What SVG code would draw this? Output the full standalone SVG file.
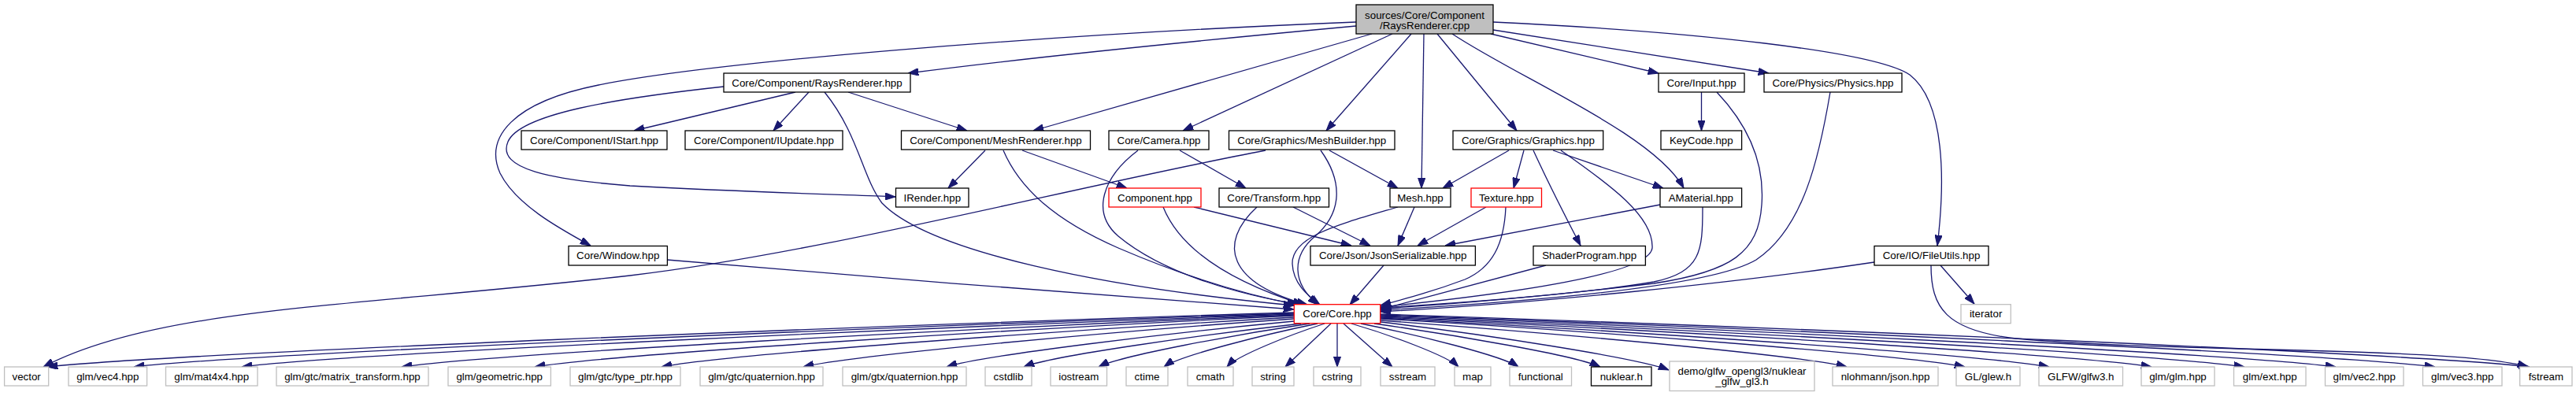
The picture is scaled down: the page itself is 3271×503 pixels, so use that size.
<svg xmlns="http://www.w3.org/2000/svg" width="3271" height="503" viewBox="0 0 3271 503">
<style>
.n rect{fill:#fff;stroke:#000;stroke-width:1.3}
.n.x rect{stroke:#bfbfbf}
.n.r rect{stroke:#f00}
.n.root rect{fill:#bfbfbf}
text{font-family:"Liberation Sans",Arial,Helvetica,sans-serif;font-size:13.33px;text-anchor:middle;fill:#000}
#edges path{fill:none;stroke:#191970;stroke-width:1.3;marker-end:url(#a)}
</style>
<defs>
<marker id="a" markerUnits="userSpaceOnUse" viewBox="0 0 13.3 9.4" refX="13.3" refY="4.7" markerWidth="13.3" markerHeight="9.4" orient="auto">
<path d="M0,0 L13.3,4.7 L0,9.4 z" fill="#191970" stroke="#191970" stroke-width="1"/>
</marker>
</defs>
<rect width="3271" height="503" fill="#fff"/>
<g id="edges">
<path d="M1722,33 C1560,48 1330,70 1153,93"/>
<path d="M1722,28 C1300,45 900,80 760,108 C650,130 615,175 635,220 C655,260 710,290 750,312"/>
<path d="M1742,43 L1312,166"/>
<path d="M1768,43 L1502,166"/>
<path d="M1792,43 L1684,166"/>
<path d="M1808,43 L1805,239"/>
<path d="M1825,43 L1926,166"/>
<path d="M1844,43 C1930,100 2100,170 2138,239"/>
<path d="M1893,43 L2106,93"/>
<path d="M1896,38 L2246,93"/>
<path d="M1896,28 C2150,40 2380,65 2425,95 C2470,130 2470,230 2460,312"/>
<path d="M1010,117 L805,166"/>
<path d="M1027,117 L982,166"/>
<path d="M919,110 C780,125 660,145 645,180 C630,215 700,228 800,236 C950,244 1060,247 1137,250"/>
<path d="M1077,117 L1228,166"/>
<path d="M1047,117 C1090,170 1095,225 1120,258 C1180,320 1400,365 1643,388"/>
<path d="M1251,191 L1204,239"/>
<path d="M1298,191 L1431,239"/>
<path d="M1274,191 C1295,240 1340,280 1420,315 C1520,358 1600,378 1648,387"/>
<path d="M1498,191 L1582,239"/>
<path d="M1445,191 C1400,225 1385,270 1420,300 C1480,350 1580,375 1650,387"/>
<path d="M1607,191 C1350,240 1050,320 800,350 C450,390 200,390 55,466"/>
<path d="M1688,191 L1775,239"/>
<path d="M1677,191 C1705,230 1705,270 1670,300 C1640,325 1640,360 1674,387"/>
<path d="M1916,191 L1832,239"/>
<path d="M1935,191 L1922,239"/>
<path d="M1947,191 C1965,230 1985,270 2007,312"/>
<path d="M1972,191 L2112,239"/>
<path d="M1982,191 C2045,235 2100,275 2098,315 C2095,350 1900,375 1753,390"/>
<path d="M2160.5,117 L2160.5,166"/>
<path d="M2180,117 C2230,170 2240,220 2237,260 C2233,320 2200,345 2100,360 C1950,378 1850,386 1753,392"/>
<path d="M2324,117 C2310,200 2290,290 2230,330 C2180,360 2000,380 1753,394"/>
<path d="M1516,263 L1716,312"/>
<path d="M1477,263 C1500,320 1570,360 1655,387"/>
<path d="M1642,263 L1740,312"/>
<path d="M1596,263 C1545,310 1560,360 1660,387"/>
<path d="M1796,263 L1775,312"/>
<path d="M1775,263 C1700,285 1640,300 1641,335 C1642,360 1660,375 1676,387"/>
<path d="M1887,263 L1800,312"/>
<path d="M1912,263 C1910,310 1895,340 1860,355 C1820,370 1790,378 1753,388"/>
<path d="M2108,260 L1835,312"/>
<path d="M2162,263 C2162,320 2160,345 2100,358 C2000,375 1850,385 1753,391"/>
<path d="M1757,337 L1714,387"/>
<path d="M1963,337 L1753,393"/>
<path d="M847,330 C1100,352 1400,375 1643,393"/>
<path d="M2380,333 C2200,360 1950,385 1753,396"/>
<path d="M2464,337 L2507,386"/>
<path d="M2452,337 C2452,390 2470,420 2560,430 C2750,448 3120,440 3210,466"/>
<path d="M1643,397 C1089,414 218,449 60,466"/>
<path d="M1643,398 C1127,415 317,449 170,466"/>
<path d="M1643,399 C1175,416 441,449 307,466"/>
<path d="M1643,400 C1246,416.5 623,449.5 510,466"/>
<path d="M1643,401 C1306,417 775,450 679,466"/>
<path d="M1643,403 C1362,419 920,450 840,466"/>
<path d="M1643,405 C1425,420 1082,451 1020,466"/>
<path d="M1643,408 C1489,422.5 1246,451.5 1202,466"/>
<path d="M1652,411 C1529,425 1335,452 1300,466"/>
<path d="M1663,411 C1569,425 1422,452 1395,466"/>
<path d="M1673,411 C1605,425 1497,452 1478,466"/>
<path d="M1682,411 C1639,425 1570,452 1558,466"/>
<path d="M1690,411 L1632,466"/>
<path d="M1698,411 L1698,466"/>
<path d="M1706,411 L1768,466"/>
<path d="M1716,411 C1764,425 1838,452 1852,466"/>
<path d="M1728,411 C1798,425 1908,452 1928,466"/>
<path d="M1745,411 C1845,425 2003,452 2032,466"/>
<path d="M1753,409 C1881,424 2082,455 2119,470"/>
<path d="M1753,407 C1960,422 2286,451 2345,466"/>
<path d="M1753,405 C2013,420 2421,451 2495,466"/>
<path d="M1753,404 C2050,419.5 2517,450.5 2602,466"/>
<path d="M1753,403 C2096,419 2634,450 2732,466"/>
<path d="M1753,402 C2137,418 2740,450 2850,466"/>
<path d="M1753,401 C2178,417 2845,450 2966,466"/>
<path d="M1753,400 C2222,416.5 2958,449.5 3092,466"/>
<path d="M1753,399 C2264,416 3066,449 3212,466"/>
</g>
<g id="root" class="n root"><rect x="1722" y="6" width="174" height="37"/><text x="1809" y="23.5">sources/Core/Component</text><text x="1809" y="36.5">/RaysRenderer.cpp</text></g>
<g id="RaysRendererHpp" class="n"><rect x="919" y="93" width="237" height="24"/><text x="1037.5" y="109.5">Core/Component/RaysRenderer.hpp</text></g>
<g id="Input" class="n"><rect x="2106" y="93" width="109" height="24"/><text x="2160.5" y="109.5">Core/Input.hpp</text></g>
<g id="Physics" class="n"><rect x="2240" y="93" width="175" height="24"/><text x="2327.5" y="109.5">Core/Physics/Physics.hpp</text></g>
<g id="IStart" class="n"><rect x="662" y="166" width="185" height="24"/><text x="754.5" y="182.5">Core/Component/IStart.hpp</text></g>
<g id="IUpdate" class="n"><rect x="870" y="166" width="200" height="24"/><text x="970" y="182.5">Core/Component/IUpdate.hpp</text></g>
<g id="MeshRenderer" class="n"><rect x="1144.5" y="166" width="240" height="24"/><text x="1264.5" y="182.5">Core/Component/MeshRenderer.hpp</text></g>
<g id="Camera" class="n"><rect x="1408" y="166" width="127" height="24"/><text x="1471.5" y="182.5">Core/Camera.hpp</text></g>
<g id="MeshBuilder" class="n"><rect x="1560.5" y="166" width="210.5" height="24"/><text x="1665.75" y="182.5">Core/Graphics/MeshBuilder.hpp</text></g>
<g id="Graphics" class="n"><rect x="1845" y="166" width="190.7" height="24"/><text x="1940.35" y="182.5">Core/Graphics/Graphics.hpp</text></g>
<g id="KeyCode" class="n"><rect x="2109" y="166" width="102.6" height="24"/><text x="2160.3" y="182.5">KeyCode.hpp</text></g>
<g id="IRender" class="n"><rect x="1137.5" y="239" width="92.5" height="24"/><text x="1183.75" y="255.5">IRender.hpp</text></g>
<g id="Component" class="n r"><rect x="1408" y="239" width="117" height="24"/><text x="1466.5" y="255.5">Component.hpp</text></g>
<g id="Transform" class="n"><rect x="1548" y="239" width="139.5" height="24"/><text x="1617.75" y="255.5">Core/Transform.hpp</text></g>
<g id="Mesh" class="n"><rect x="1765" y="239" width="77" height="24"/><text x="1803.5" y="255.5">Mesh.hpp</text></g>
<g id="Texture" class="n r"><rect x="1868" y="239" width="89.5" height="24"/><text x="1912.75" y="255.5">Texture.hpp</text></g>
<g id="AMaterial" class="n"><rect x="2108" y="239" width="103.6" height="24"/><text x="2159.8" y="255.5">AMaterial.hpp</text></g>
<g id="Window" class="n"><rect x="722" y="312.5" width="125.4" height="24.5"/><text x="784.7" y="329">Core/Window.hpp</text></g>
<g id="JsonSerializable" class="n"><rect x="1664" y="312.5" width="209.4" height="24.5"/><text x="1768.7" y="329">Core/Json/JsonSerializable.hpp</text></g>
<g id="ShaderProgram" class="n"><rect x="1947" y="312.5" width="142.4" height="24.5"/><text x="2018.2" y="329">ShaderProgram.hpp</text></g>
<g id="FileUtils" class="n"><rect x="2380" y="312.5" width="145" height="24.5"/><text x="2452.5" y="329">Core/IO/FileUtils.hpp</text></g>
<g id="Core" class="n r"><rect x="1643.3" y="386.7" width="109.4" height="24"/><text x="1698" y="403.2">Core/Core.hpp</text></g>
<g id="iterator" class="n x"><rect x="2490" y="386.7" width="63.3" height="24"/><text x="2521.65" y="403.2">iterator</text></g>
<g id="vector" class="n x"><rect x="5.6" y="466" width="56.1" height="24"/><text x="33.65" y="482.5">vector</text></g>
<g id="vec4" class="n x"><rect x="87" y="466" width="99.6" height="24"/><text x="136.8" y="482.5">glm/vec4.hpp</text></g>
<g id="mat4x4" class="n x"><rect x="210.5" y="466" width="116.5" height="24"/><text x="268.75" y="482.5">glm/mat4x4.hpp</text></g>
<g id="matrix_transform" class="n x"><rect x="351" y="466" width="193" height="24"/><text x="447.5" y="482.5">glm/gtc/matrix_transform.hpp</text></g>
<g id="geometric" class="n x"><rect x="569" y="466" width="130.4" height="24"/><text x="634.2" y="482.5">glm/geometric.hpp</text></g>
<g id="type_ptr" class="n x"><rect x="724" y="466" width="140" height="24"/><text x="794" y="482.5">glm/gtc/type_ptr.hpp</text></g>
<g id="gtc_quaternion" class="n x"><rect x="889" y="466" width="156" height="24"/><text x="967" y="482.5">glm/gtc/quaternion.hpp</text></g>
<g id="gtx_quaternion" class="n x"><rect x="1070" y="466" width="157" height="24"/><text x="1148.5" y="482.5">glm/gtx/quaternion.hpp</text></g>
<g id="cstdlib" class="n x"><rect x="1251" y="466" width="59" height="24"/><text x="1280.5" y="482.5">cstdlib</text></g>
<g id="iostream" class="n x"><rect x="1334" y="466" width="71.5" height="24"/><text x="1369.75" y="482.5">iostream</text></g>
<g id="ctime" class="n x"><rect x="1430" y="466" width="53" height="24"/><text x="1456.5" y="482.5">ctime</text></g>
<g id="cmath" class="n x"><rect x="1508" y="466" width="58" height="24"/><text x="1537" y="482.5">cmath</text></g>
<g id="string" class="n x"><rect x="1590" y="466" width="53" height="24"/><text x="1616.5" y="482.5">string</text></g>
<g id="cstring" class="n x"><rect x="1668" y="466" width="60" height="24"/><text x="1698" y="482.5">cstring</text></g>
<g id="sstream" class="n x"><rect x="1753" y="466" width="69" height="24"/><text x="1787.5" y="482.5">sstream</text></g>
<g id="map" class="n x"><rect x="1847" y="466" width="46" height="24"/><text x="1870" y="482.5">map</text></g>
<g id="functional" class="n x"><rect x="1917" y="466" width="78.5" height="24"/><text x="1956.25" y="482.5">functional</text></g>
<g id="nuklear" class="n"><rect x="2020.5" y="466" width="76.5" height="24"/><text x="2058.75" y="482.5">nuklear.h</text></g>
<g id="demo" class="n x"><rect x="2120" y="459" width="184" height="37.5"/><text x="2212" y="476">demo/glfw_opengl3/nuklear</text><text x="2212" y="488.5">_glfw_gl3.h</text></g>
<g id="nlohmann" class="n x"><rect x="2327" y="466" width="134" height="24"/><text x="2394" y="482.5">nlohmann/json.hpp</text></g>
<g id="glew" class="n x"><rect x="2484" y="466" width="81" height="24"/><text x="2524.5" y="482.5">GL/glew.h</text></g>
<g id="glfw3" class="n x"><rect x="2589" y="466" width="106.5" height="24"/><text x="2642.25" y="482.5">GLFW/glfw3.h</text></g>
<g id="glm" class="n x"><rect x="2719" y="466" width="93" height="24"/><text x="2765.5" y="482.5">glm/glm.hpp</text></g>
<g id="ext" class="n x"><rect x="2836.5" y="466" width="91.5" height="24"/><text x="2882.25" y="482.5">glm/ext.hpp</text></g>
<g id="vec2" class="n x"><rect x="2952.5" y="466" width="99.5" height="24"/><text x="3002.25" y="482.5">glm/vec2.hpp</text></g>
<g id="vec3" class="n x"><rect x="3076.5" y="466" width="100.5" height="24"/><text x="3126.75" y="482.5">glm/vec3.hpp</text></g>
<g id="fstream" class="n x"><rect x="3199.7" y="466" width="66.3" height="24"/><text x="3232.85" y="482.5">fstream</text></g>
</svg>
